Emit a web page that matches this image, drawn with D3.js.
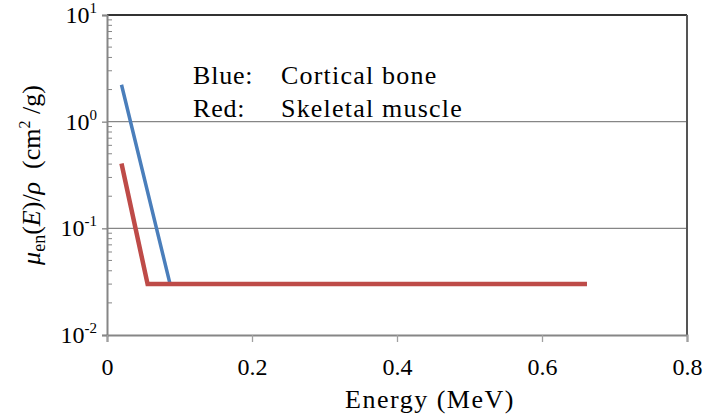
<!DOCTYPE html>
<html>
<head>
<meta charset="utf-8">
<script src="https://cdn.jsdelivr.net/npm/d3@7"></script>
<style>
  body { margin: 0; background: #fff; }
  svg text { font-family: 'Liberation Serif', 'Times New Roman', Times, 'DejaVu Serif', serif !important; fill: #000; }
</style>
</head>
<body>
<div id="chart"></div>
<script>
// energy (MeV) and mass energy-absorption coefficient (cm2/g)
const boneEnergy = [0.02, 0.087, 0.662];
const boneMuEn = [2.22, 0.03, 0.03];
const muscleEnergy = [0.02, 0.056, 0.662];
const muscleMuEn = [0.405, 0.03, 0.03];

const xTicks = [0, 0.2, 0.4, 0.6, 0.8];
const xTickLabels = ["0", "0.2", "0.4", "0.6", "0.8"];
const yTicks = [10, 1, 0.1, 0.01];
const yTickExp = ["1", "0", "-1", "-2"];
const legendNames = ["Blue:", "Red:"];
const legendLabels = ["Cortical bone", "Skeletal muscle"];

const W = 707, H = 415;
const margin = {left: 107, right: 20, top: 15, bottom: 80};

const svg = d3.select("#chart").append("svg")
  .attr("width", W)
  .attr("height", H);

const x = d3.scaleLinear().domain([0, 0.8]).range([margin.left, W - margin.right]);
const y = d3.scaleLog().domain([0.01, 10]).range([H - margin.bottom, margin.top]);

// gridlines at inner decades
svg.selectAll(".grid")
  .data(yTicks.slice(1, 3))
  .enter().append("line")
  .attr("x1", x(0)).attr("x2", x(0.8))
  .attr("y1", d => y(d)).attr("y2", d => y(d))
  .attr("stroke", "#868686").attr("stroke-width", 1.3);

// top and right border
svg.append("line")
  .attr("x1", x(0)).attr("x2", x(0.8))
  .attr("y1", y(10)).attr("y2", y(10))
  .attr("stroke", "#333").attr("stroke-width", 2);
svg.append("line")
  .attr("x1", x(0.8)).attr("x2", x(0.8))
  .attr("y1", y(10)).attr("y2", y(0.01))
  .attr("stroke", "#555").attr("stroke-width", 2);

// minor ticks on log axis (inside)
const minor = [];
[0.01, 0.1, 1].forEach(dec => { for (let k = 2; k <= 9; k++) minor.push(dec * k); });
svg.selectAll(".minor")
  .data(minor)
  .enter().append("line")
  .attr("x1", x(0)).attr("x2", x(0) + 5)
  .attr("y1", d => y(d)).attr("y2", d => y(d))
  .attr("stroke", "#868686").attr("stroke-width", 1);

// y axis
const yAxis = svg.append("g")
  .attr("transform", `translate(${x(0)},0)`)
  .call(d3.axisLeft(y).tickValues(yTicks).tickSize(5).tickFormat(""));
yAxis.select(".domain").attr("stroke", "#868686").attr("stroke-width", 2);
yAxis.selectAll(".tick line").attr("stroke", "#868686").attr("stroke-width", 1.3);

// y tick labels: 10 with superscript exponent
yTicks.forEach((v, i) => {
  const t = svg.append("text")
    .attr("x", x(0) - 10)
    .attr("y", y(v) + 8)
    .attr("text-anchor", "end")
    .attr("font-size", "24px");
  t.append("tspan").text("10");
  t.append("tspan").attr("dy", -10).attr("font-size", "15px").text(yTickExp[i]);
});

// x axis
const xAxis = svg.append("g")
  .attr("transform", `translate(0,${y(0.01)})`)
  .call(d3.axisBottom(x).tickValues(xTicks).tickSize(7).tickFormat((d, i) => xTickLabels[i]));
xAxis.select(".domain").attr("stroke", "#868686").attr("stroke-width", 2);
xAxis.selectAll(".tick line").attr("stroke", "#a0a0a0").attr("stroke-width", 1.3);
xAxis.selectAll(".tick text")
  .attr("font-size", "24px")
  .attr("dy", 0)
  .attr("y", 40);

// data lines
const line = d3.line().x(d => x(d[0])).y(d => y(d[1]));
svg.append("path")
  .datum(d3.zip(boneEnergy, boneMuEn))
  .attr("d", line)
  .attr("fill", "none")
  .attr("stroke", "#4a7ebb")
  .attr("stroke-width", 3.5);
svg.append("path")
  .datum(d3.zip(muscleEnergy, muscleMuEn))
  .attr("d", line)
  .attr("fill", "none")
  .attr("stroke", "#be4b48")
  .attr("stroke-width", 4.5);

// legend text
legendNames.forEach((n, i) => {
  svg.append("text").attr("x", 193).attr("y", 84 + i * 33)
    .attr("font-size", "26px").attr("letter-spacing", "0.8px").text(n);
  svg.append("text").attr("x", 281).attr("y", 84 + i * 33)
    .attr("font-size", "26px").attr("letter-spacing", "1.2px").text(legendLabels[i]);
});

// x title
svg.append("text")
  .attr("x", 430)
  .attr("y", 408)
  .attr("text-anchor", "middle")
  .attr("font-size", "26px")
  .attr("letter-spacing", "1.5px")
  .text("Energy (MeV)");

// y title
const yt = svg.append("text")
  .attr("transform", "translate(40,175) rotate(-90)")
  .attr("text-anchor", "middle")
  .attr("font-size", "26px");
yt.append("tspan").attr("font-style", "italic").text("μ");
yt.append("tspan").attr("font-size", "18px").attr("dy", 5).text("en");
yt.append("tspan").attr("dy", -5).text("(");
yt.append("tspan").attr("font-style", "italic").text("E");
yt.append("tspan").text(")/");
yt.append("tspan").attr("font-style", "italic").text("ρ");
yt.append("tspan").text("\u00a0\u00a0(cm");
yt.append("tspan").attr("font-size", "16px").attr("dy", -10).text("2");
yt.append("tspan").attr("dy", 10).text(" /g)");
</script>
</body>
</html>
